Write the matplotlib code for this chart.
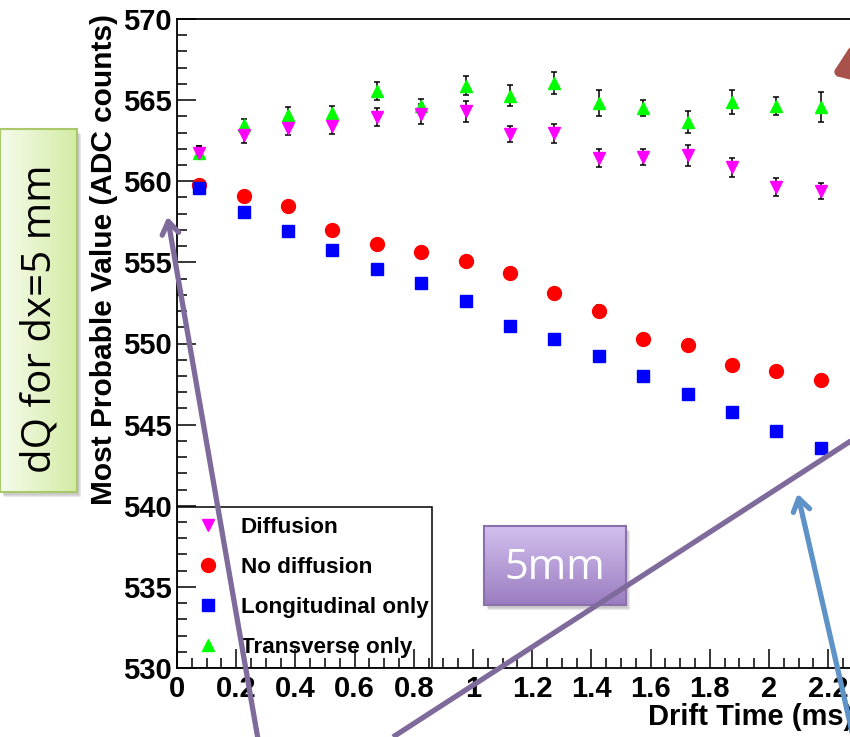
import numpy as np
import matplotlib
matplotlib.use('Agg')
import matplotlib.pyplot as plt
from matplotlib.lines import Line2D
from matplotlib.patches import Rectangle, FancyArrowPatch
from matplotlib.colors import LinearSegmentedColormap

plt.rcParams['font.family'] = ['Liberation Sans', 'DejaVu Sans']

########## DATOS ##########

drift_time = [0.075, 0.225, 0.375, 0.525, 0.675, 0.825, 0.975, 1.125,
              1.275, 1.425, 1.575, 1.725, 1.875, 2.025, 2.175]

diffusion = [561.75, 562.86, 563.3, 563.4, 563.97, 564.15, 564.3, 562.9,
             562.95, 561.45, 561.5, 561.6, 560.85, 559.66, 559.4]
diffusion_err = [0.4, 0.5, 0.45, 0.5, 0.55, 0.6, 0.65, 0.5,
                 0.6, 0.55, 0.5, 0.65, 0.6, 0.55, 0.5]

no_diffusion = [559.75, 559.1, 558.5, 557.0, 556.15, 555.66, 555.1, 554.37,
                553.14, 552.03, 550.3, 549.88, 548.65, 548.28, 547.78]
no_diffusion_err = [0.25, 0.3, 0.3, 0.3, 0.3, 0.3, 0.3, 0.3,
                    0.3, 0.35, 0.3, 0.3, 0.3, 0.2, 0.3]

longitudinal = [559.6, 558.12, 556.95, 555.78, 554.6, 553.7, 552.65, 551.05,
                550.3, 549.2, 547.97, 546.9, 545.75, 544.6, 543.54]
longitudinal_err = [0.15] * 15

transverse = [561.75, 563.45, 564.1, 564.2, 565.57, 564.65, 565.9, 565.26,
              566.06, 564.83, 564.5, 563.66, 564.9, 564.65, 564.58]
transverse_err = [0.4, 0.4, 0.45, 0.45, 0.56, 0.4, 0.6, 0.65,
                  0.7, 0.8, 0.5, 0.7, 0.75, 0.55, 0.95]

etiquetas = ['Diffusion', 'No diffusion', 'Longitudinal only', 'Transverse only']
colores = ['#ff00ff', '#ff0000', '#0000ff', '#00ff00']
marcadores = ['v', 'o', 's', '^']

########## FIGURA ##########

W, H = 850, 737
fig = plt.figure(figsize=(W / 100, H / 100), dpi=100)
fig.patch.set_facecolor('white')

# ejes: x=0 en px 177, 1 ms = 296 px; y de 530 (px 668) a 570 (px 19)
x0, y_top, y_bot = 177, 19, 668
xmax = 2.5
ancho = xmax * 296
ax = fig.add_axes([x0 / W, (H - y_bot) / H, ancho / W, (y_bot - y_top) / H])
ax.set_xlim(0, xmax)
ax.set_ylim(530, 570)

# orden de dibujo: verde, magenta, rojo, azul
series = [(transverse, transverse_err, 3), (diffusion, diffusion_err, 0),
          (no_diffusion, no_diffusion_err, 1), (longitudinal, longitudinal_err, 2)]
for vals, errs, k in series:
    ms = 10 if marcadores[k] == 'o' else 8.5
    ax.errorbar(drift_time, vals, yerr=errs, fmt=marcadores[k], color=colores[k],
                ms=ms, mec=colores[k], ecolor='black', elinewidth=1.1,
                capsize=2.3, capthick=1.1, zorder=3)

ax.set_yticks(np.arange(530, 571, 5))
ax.set_yticks(np.arange(530, 571, 1), minor=True)
ax.set_xticks(np.arange(0, 2.41, 0.2))
ax.set_xticks(np.arange(0, xmax + 0.001, 0.05), minor=True)
ax.set_xticklabels(['0', '0.2', '0.4', '0.6', '0.8', '1', '1.2', '1.4', '1.6',
                    '1.8', '2', '2.2', '2.4'])
ax.tick_params(which='both', direction='in', top=False, right=False, width=1.1)
ax.tick_params(which='major', length=13.5)
ax.tick_params(which='minor', length=7)
ax.tick_params(axis='y', pad=4)
ax.tick_params(axis='x', pad=5)
for lab in ax.get_xticklabels() + ax.get_yticklabels():
    lab.set_fontsize(21)
    lab.set_fontweight('bold')
for s in ax.spines.values():
    s.set_linewidth(1.3)

ax.set_ylabel('Most Probable Value (ADC counts)', fontsize=21.5, fontweight='bold')
ax.yaxis.set_label_coords((118 - x0) / ancho, (y_bot - 259) / (y_bot - y_top))
ax.set_xlabel('Drift Time (ms)', fontsize=21, fontweight='bold', ha='right')
ax.xaxis.set_label_coords((853 - x0) / ancho, (y_bot - 703) / (y_bot - y_top))

# leyenda tipo ROOT
lx1 = (432 - x0) / ancho
ly1 = (y_bot - 507) / (y_bot - y_top)
ax.add_patch(Rectangle((0, 0), lx1, ly1, transform=ax.transAxes, fill=False,
                       ec='black', lw=1.1, zorder=4))
handles = [Line2D([], [], ls='none', marker=marcadores[k], color=colores[k],
                  mec=colores[k], ms=(10 if marcadores[k] == 'o' else 8.5))
           for k in range(4)]
leg = ax.legend(handles, etiquetas, loc='center left',
                bbox_to_anchor=(20 / ancho, 0.0, lx1, ly1), frameon=False,
                prop={'weight': 'bold', 'size': 16.2}, labelspacing=0.85,
                handlelength=1.0, handletextpad=0.95, borderaxespad=0.0,
                borderpad=0.0)
leg.set_zorder(5)

########## ANOTACIONES ENCIMA ##########

ov = fig.add_axes([0, 0, 1, 1], zorder=10)
ov.axis('off')
ov.patch.set_alpha(0)


def caja(xa, xb, ya, yb, c1, c2, borde, vertical):
    # sombra
    for i, a in enumerate([0.05, 0.07, 0.09]):
        ov.add_patch(Rectangle((xa + 2 + i, ya + 3 + i), xb - xa, yb - ya,
                               fc='black', ec='none', alpha=a, zorder=1))
    cmap = LinearSegmentedColormap.from_list('g', [c1, c2])
    if vertical:
        grad = np.linspace(0, 1, 100).reshape(-1, 1)
    else:
        grad = np.linspace(0, 1, 100).reshape(1, -1)
    ov.imshow(grad, extent=(xa, xb, yb, ya), aspect='auto', cmap=cmap, zorder=2)
    ov.add_patch(Rectangle((xa, ya), xb - xa, yb - ya, fill=False, ec=borde,
                           lw=1.5, zorder=3))


caja(0, 77, 129, 492, '#f6fbec', '#d3eca4', '#a8c86a', False)
ov.text(40, 319, 'dQ for dx=5 mm', rotation=90, ha='center', va='center',
        fontsize=29, family=['Open Sans', 'DejaVu Sans'], color='black', zorder=4)

caja(484, 626, 526, 605, '#d3c0ee', '#9a7dc0', '#8a70ad', True)
ov.text(555, 568, '5mm', ha='center', va='center', fontsize=30,
        family=['Open Sans', 'DejaVu Sans'], color='white', zorder=4)

purpura = '#7f6a9c'
ov.plot([393, 860], [737, 435], color=purpura, lw=3.8, solid_capstyle='butt', zorder=6)
ov.add_patch(FancyArrowPatch((259, 745), (167, 214), arrowstyle='->,head_length=9,head_width=6',
                             color=purpura, lw=3.8, zorder=6))
ov.add_patch(FancyArrowPatch((855, 745), (797, 491), arrowstyle='->,head_length=9,head_width=6',
                             color='#5e93c8', lw=3.8, zorder=7))
ov.add_patch(FancyArrowPatch((900, 48), (829, 76), arrowstyle='-|>,head_length=14,head_width=10',
                             color='#a9524c', lw=7, zorder=6))
ov.set_xlim(0, W)
ov.set_ylim(H, 0)

fig.savefig('out.png', dpi=100)
